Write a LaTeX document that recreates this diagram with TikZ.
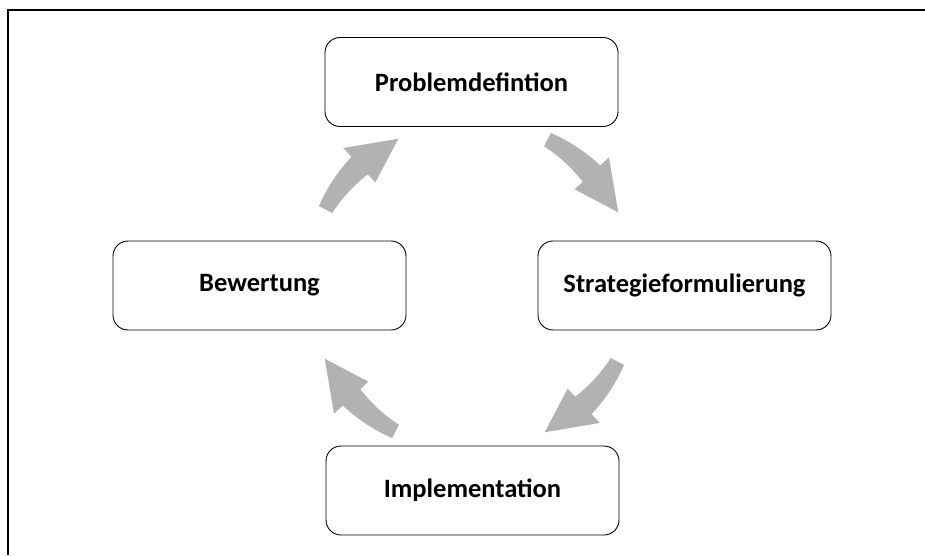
\documentclass[tikz,border=0pt]{standalone}
\usepackage{fontspec}
\setmainfont{Carlito}
\usetikzlibrary{calc}
\definecolor{arrowgray}{RGB}{178,178,178}
\tikzset{
  stage/.style={draw=black, line width=0.9pt, rounded corners=15pt,
    minimum width=293pt, minimum height=89pt, inner sep=0pt,
    font=\fontsize{26.5}{30}\selectfont\bfseries},
  cyc/.pic={
    \fill[arrowgray]
      plot[domain=0:1, samples=25] ({#1-19.5*\x}:{172+4*\x})
      -- ({#1-19.5}:188) -- ({#1-36}:164) -- ({#1-19.5}:141)
      -- plot[domain=1:0, samples=25] ({#1-19.5*\x}:{157-5*\x})
      -- cycle;
  }
}
\begin{document}
\begin{tikzpicture}[x=1pt,y=1pt]
\useasboundingbox (0,0) rectangle (925,555);
\draw[line width=1.7pt] (8,0) -- (8,545) -- (925,545);
\node[stage] (prob)  at (471.5,473)   {Problemdefintion};
\node[stage] (strat) at (684.5,269.5) {Strategieformulierung};
\node[stage] (bew)   at (259.5,269.5) {Bewertung};
\node[stage] (impl)  at (472.5,64.5)  {Implementation};
\coordinate (c) at (471.5,269.5);
\pic at (c) {cyc=62.5};
\pic at (c) {cyc=-27.5};
\pic at (c) {cyc=-117.5};
\pic at (c) {cyc=152.5};
\end{tikzpicture}
\end{document}
